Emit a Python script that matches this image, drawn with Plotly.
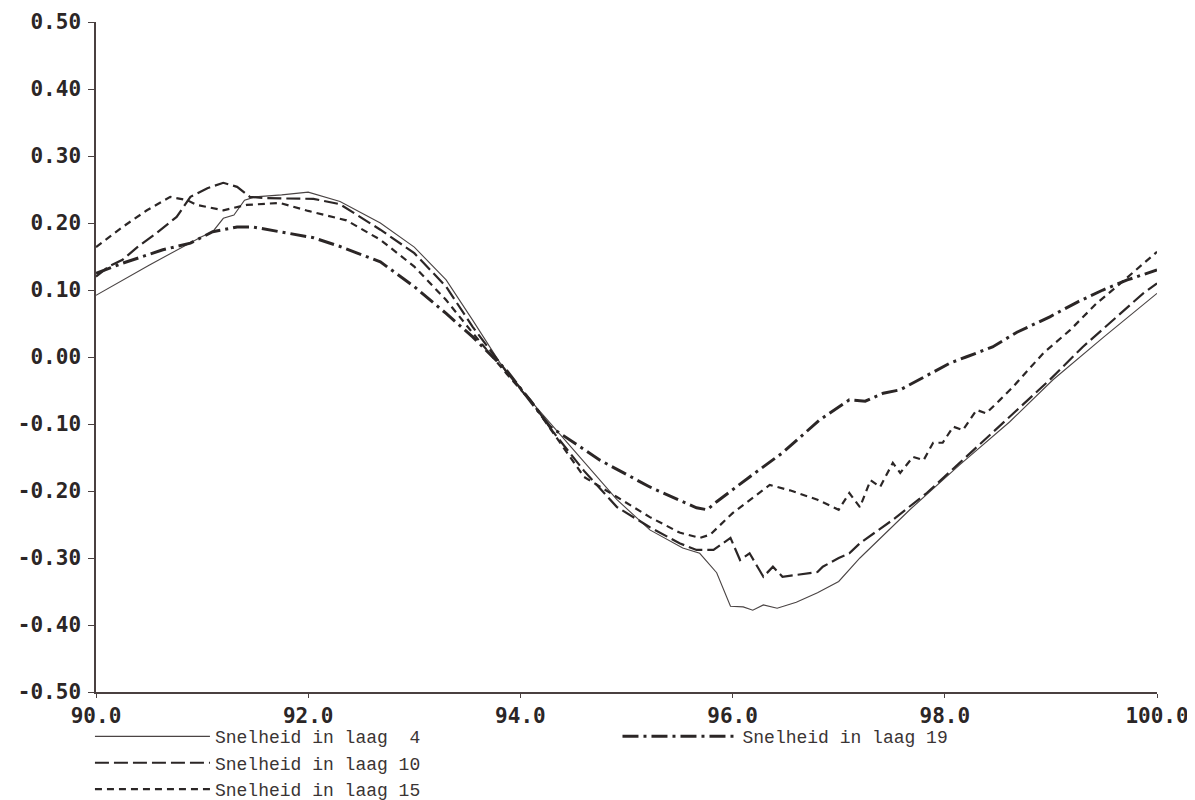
import plotly.graph_objects as go

# ---- data ----
x_laag4 = [90.0, 90.5, 91.0, 91.1, 91.2, 91.3, 91.4, 91.5, 91.75, 92.0, 92.3, 92.68, 93.0, 93.3, 93.55,
           93.87, 94.1, 94.56, 94.91, 95.22, 95.53, 95.69, 95.85, 95.98, 96.1, 96.19, 96.29, 96.42, 96.6,
           96.8, 97.0, 97.2, 97.67, 98.14, 98.61, 99.02, 99.5, 100.0]
y_laag4 = [0.092, 0.137, 0.180, 0.187, 0.207, 0.212, 0.234, 0.239, 0.242, 0.246, 0.232, 0.200, 0.164, 0.115,
           0.055, -0.024, -0.066, -0.149, -0.213, -0.258, -0.285, -0.293, -0.322, -0.372, -0.373, -0.378,
           -0.370, -0.375, -0.366, -0.352, -0.335, -0.300, -0.228, -0.161, -0.097, -0.034, 0.030, 0.095]

x_laag10 = [90.0, 90.12, 90.25, 90.39, 90.57, 90.76, 90.89, 91.05, 91.2, 91.33, 91.45, 91.61, 92.05, 92.3,
            92.68, 93.0, 93.3, 93.55, 93.87, 94.1, 94.3, 94.6, 94.91, 95.22, 95.5, 95.66, 95.82, 95.98,
            96.07, 96.16, 96.29, 96.38, 96.47, 96.8, 96.85, 97.0, 97.1, 97.2, 97.51, 97.83, 98.14, 98.61,
            98.99, 99.3, 99.62, 99.87, 100.0]
y_laag10 = [0.120, 0.135, 0.145, 0.164, 0.185, 0.209, 0.239, 0.252, 0.260, 0.254, 0.239, 0.237, 0.236, 0.228,
            0.190, 0.155, 0.105, 0.045, -0.022, -0.065, -0.110, -0.170, -0.224, -0.254, -0.278, -0.288,
            -0.288, -0.270, -0.303, -0.293, -0.328, -0.313, -0.328, -0.321, -0.313, -0.300, -0.293, -0.278,
            -0.243, -0.203, -0.158, -0.090, -0.034, 0.015, 0.060, 0.095, 0.110]

x_laag15 = [90.0, 90.25, 90.48, 90.7, 90.86, 90.95, 91.2, 91.42, 91.73, 92.0, 92.36, 92.68, 93.0, 93.3, 93.55,
            93.87, 94.1, 94.6, 94.91, 95.22, 95.5, 95.69, 95.79, 96.0, 96.35, 96.54, 96.8, 97.0, 97.1, 97.2,
            97.3, 97.39, 97.51, 97.58, 97.7, 97.8, 97.89, 97.98, 98.08, 98.17, 98.3, 98.39, 98.52, 98.64,
            98.93, 99.18, 99.43, 99.62, 100.0]
y_laag15 = [0.164, 0.194, 0.219, 0.239, 0.234, 0.227, 0.219, 0.227, 0.230, 0.218, 0.204, 0.175, 0.135, 0.085,
            0.036, -0.025, -0.066, -0.179, -0.209, -0.239, -0.262, -0.270, -0.265, -0.233, -0.191, -0.199,
            -0.213, -0.228, -0.203, -0.224, -0.184, -0.194, -0.158, -0.173, -0.149, -0.154, -0.128, -0.128,
            -0.104, -0.109, -0.079, -0.084, -0.064, -0.045, 0.006, 0.040, 0.080, 0.105, 0.157]

x_laag19 = [90.0, 90.25, 90.63, 90.89, 91.1, 91.33, 91.48, 92.05, 92.3, 92.68, 93.0, 93.3, 93.55, 93.87, 94.28,
            94.75, 95.22, 95.66, 95.76, 95.85, 96.16, 96.47, 96.82, 96.95, 97.1, 97.25, 97.42, 97.58, 97.8,
            98.05, 98.2, 98.45, 98.68, 98.99, 99.25, 99.49, 99.72, 100.0]
y_laag19 = [0.125, 0.140, 0.160, 0.170, 0.187, 0.194, 0.194, 0.178, 0.165, 0.142, 0.105, 0.065, 0.030, -0.020,
            -0.104, -0.154, -0.194, -0.225, -0.228, -0.216, -0.179, -0.143, -0.094, -0.080, -0.064, -0.066,
            -0.054, -0.049, -0.030, -0.009, 0.000, 0.015, 0.037, 0.060, 0.082, 0.100, 0.115, 0.130]

x_tickvals = [90, 92, 94, 96, 98, 100]
x_ticktext = ["90.0", "92.0", "94.0", "96.0", "98.0", "100.0"]
y_tickvals = [-0.5, -0.4, -0.3, -0.2, -0.1, 0.0, 0.1, 0.2, 0.3, 0.4, 0.5]
y_ticktext = ["-0.50", "-0.40", "-0.30", "-0.20", "-0.10", "0.00", "0.10", "0.20", "0.30", "0.40", "0.50"]

names = ["Snelheid in laag  4", "Snelheid in laag 10", "Snelheid in laag 15", "Snelheid in laag 19"]

ink = "#2b2626"
fig = go.Figure()
fig.add_trace(go.Scatter(x=x_laag4, y=y_laag4, mode="lines", name=names[0],
                         line=dict(color="#4a4444", width=1.1), legend="legend"))
fig.add_trace(go.Scatter(x=x_laag10, y=y_laag10, mode="lines", name=names[1],
                         line=dict(color=ink, width=2.2, dash="14px,5px"), legend="legend"))
fig.add_trace(go.Scatter(x=x_laag15, y=y_laag15, mode="lines", name=names[2],
                         line=dict(color=ink, width=2.2, dash="7px,5px"), legend="legend"))
fig.add_trace(go.Scatter(x=x_laag19, y=y_laag19, mode="lines", name=names[3],
                         line=dict(color=ink, width=3, dash="16px,5px,3px,5px"), legend="legend2"))

tickfont = dict(family="DejaVu Sans Mono", size=21, color=ink, weight="bold")
legfont = dict(family="Liberation Mono", size=18, color="#3a3434")

fig.update_layout(
    width=1187, height=792,
    margin=dict(l=88, r=38, t=14, b=108, autoexpand=False),
    paper_bgcolor="white", plot_bgcolor="white",
    xaxis=dict(range=[90, 100], tickvals=x_tickvals, ticktext=x_ticktext, showgrid=False, zeroline=False,
               showline=True, linecolor="#4a4040", linewidth=1.5, ticks="outside", ticklen=4,
               tickcolor="#4a4040", tickfont=tickfont, automargin=False),
    yaxis=dict(range=[-0.5, 0.5], tickvals=y_tickvals, ticktext=y_ticktext, showgrid=False, zeroline=False,
               showline=True, linecolor="#4a4040", linewidth=1.5, ticks="outside", ticklen=6,
               tickcolor="#4a4040", tickfont=tickfont, automargin=False, ticklabelstandoff=3),
    legend=dict(x=-0.0057, y=-0.039, xanchor="left", yanchor="top", orientation="v", font=legfont,
                bgcolor="rgba(0,0,0,0)", itemwidth=115, tracegroupgap=0),
    legend2=dict(x=0.4915, y=-0.039, xanchor="left", yanchor="top", orientation="v", font=legfont,
                 bgcolor="rgba(0,0,0,0)", itemwidth=115),
    showlegend=True,
)

fig.write_html("out.html")
